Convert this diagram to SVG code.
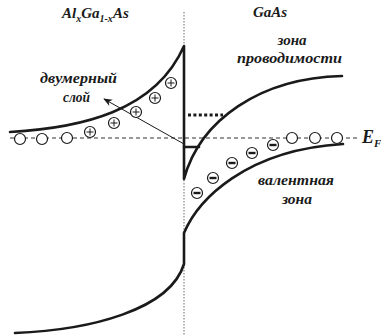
<svg xmlns="http://www.w3.org/2000/svg" width="381" height="336" viewBox="0 0 381 336">
<defs>
<style>
.band{fill:none;stroke:#1a1a1a;stroke-width:2.6;stroke-linecap:round;stroke-linejoin:round}
.lbl{font-family:'Liberation Serif','DejaVu Serif',serif;font-weight:bold;font-style:italic;fill:#1a1a1a}
.c{fill:#fff;stroke:#1a1a1a;stroke-width:1.2}
.plus{stroke:#1a1a1a;stroke-width:1;fill:none}
.minus{fill:#1a1a1a}
</style>
<marker id="ah" viewBox="0 0 10 10" refX="9" refY="5" markerWidth="9" markerHeight="9" orient="auto" markerUnits="userSpaceOnUse">
<path d="M0,1 L10,5 L0,9 L3,5 Z" fill="#1a1a1a"/>
</marker>
</defs>
<rect width="381" height="336" fill="#fff"/>

<g id="connectors">
<line x1="184" y1="12" x2="184" y2="336" stroke="#444" stroke-width="0.8" stroke-dasharray="1.5 1.5"/>
<line x1="10" y1="138" x2="360" y2="138" stroke="#777" stroke-width="1.3" stroke-dasharray="4 3"/>
<line x1="188" y1="115" x2="223" y2="115" stroke="#1a1a1a" stroke-width="3" stroke-dasharray="3 2.4"/>
<line x1="184" y1="144" x2="104" y2="99" stroke="#1a1a1a" stroke-width="1" marker-end="url(#ah)"/>
</g>

<g id="conduction-band">
<path class="band" d="M10,132 C80,128 155,112 184,46 L184,179 C200,120 260,78 342,76"/>
<path class="band" d="M184,147 L199,147"/>
</g>

<g id="valence-band">
<path class="band" d="M15,333 C90,330 170,310 184,264 L184,233 C198,200 245,150 343,144"/>
</g>

<g id="holes">
<circle class="c" cx="20" cy="139" r="5.5"/>
<circle class="c" cx="42" cy="139" r="5.5"/>
<circle class="c" cx="67" cy="138" r="5.5"/>
<circle class="c" cx="292" cy="138" r="5.5"/>
<circle class="c" cx="315" cy="138" r="5.5"/>
<circle class="c" cx="337" cy="138" r="5.5"/>
</g>

<g id="donors">
<circle class="c" cx="90" cy="132" r="5.5"/><path class="plus" d="M86.5,132h7M90,128.5v7"/>
<circle class="c" cx="114" cy="123" r="5.5"/><path class="plus" d="M110.5,123h7M114,119.5v7"/>
<circle class="c" cx="136" cy="112" r="5.5"/><path class="plus" d="M132.5,112h7M136,108.5v7"/>
<circle class="c" cx="155" cy="98" r="5.5"/><path class="plus" d="M151.5,98h7M155,94.5v7"/>
<circle class="c" cx="171" cy="83" r="5.5"/><path class="plus" d="M167.5,83h7M171,79.5v7"/>
</g>

<g id="acceptors">
<circle class="c" cx="273" cy="145" r="5.5"/><rect class="minus" x="269.5" y="143.8" width="7" height="2.4"/>
<circle class="c" cx="252" cy="153" r="5.5"/><rect class="minus" x="248.5" y="151.8" width="7" height="2.4"/>
<circle class="c" cx="232" cy="163" r="5.5"/><rect class="minus" x="228.5" y="161.8" width="7" height="2.4"/>
<circle class="c" cx="213" cy="178" r="5.5"/><rect class="minus" x="209.5" y="176.8" width="7" height="2.4"/>
<circle class="c" cx="197" cy="193" r="5.5"/><rect class="minus" x="193.5" y="191.8" width="7" height="2.4"/>
</g>

<g id="label-algaas">
<text class="lbl" x="62" y="18" font-size="15">Al<tspan font-size="10" dy="4">x</tspan><tspan dy="-4">Ga</tspan><tspan font-size="10" dy="4">1-x</tspan><tspan dy="-4">As</tspan></text>
</g>
<g id="label-gaas">
<text class="lbl" x="253" y="17" font-size="15">GaAs</text>
</g>
<g id="label-conduction">
<text class="lbl" x="292" y="45" font-size="15" text-anchor="middle">зона</text>
<text class="lbl" x="237" y="63" font-size="15" textLength="105" lengthAdjust="spacingAndGlyphs">проводимости</text>
</g>
<g id="label-2d">
<text class="lbl" x="40" y="83" font-size="15" textLength="77" lengthAdjust="spacingAndGlyphs">двумерный</text>
<text class="lbl" x="63" y="102" font-size="15" textLength="27" lengthAdjust="spacingAndGlyphs">слой</text>
</g>
<g id="label-valence">
<text class="lbl" x="258" y="185" font-size="15" textLength="76" lengthAdjust="spacingAndGlyphs">валентная</text>
<text class="lbl" x="282" y="204" font-size="15" textLength="30" lengthAdjust="spacingAndGlyphs">зона</text>
</g>
<g id="label-ef">
<text class="lbl" x="362" y="143" font-size="18">E<tspan font-size="11" dy="4">F</tspan></text>
</g>
</svg>
